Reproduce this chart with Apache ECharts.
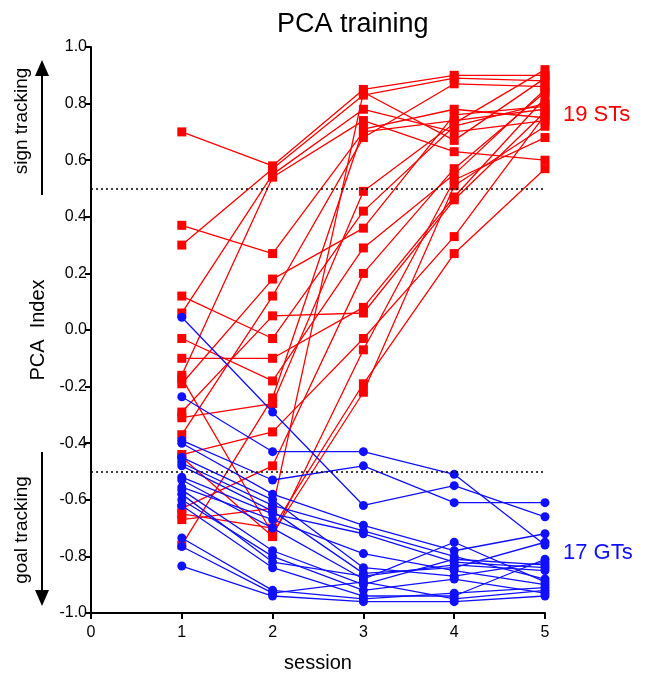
<!DOCTYPE html>
<html>
<head>
<meta charset="utf-8">
<script src="https://cdn.jsdelivr.net/npm/echarts@6/dist/echarts.min.js"></script>
<style>
html,body{margin:0;padding:0;background:#fff;}
#chart{width:654px;height:676px;}
</style>
</head>
<body>
<div id="chart"></div>
<script>
// sessions on x-axis
const sessions = [1, 2, 3, 4, 5];
const xTicks = [0, 1, 2, 3, 4, 5];

// Sign trackers (19 animals): PCA index per session, index i = animal i
const stS1 = [0.70, 0.37, 0.30, 0.12, 0.06, -0.03, -0.10, -0.16, -0.19, -0.29, -0.31, -0.37, -0.44, -0.63, -0.65, -0.76, -0.17, -0.45, -0.67];
const stS2 = [0.58, 0.27, 0.57, -0.03, 0.55, -0.18, -0.10, 0.54, 0.18, 0.05, -0.26, 0.12, -0.36, -0.48, -0.70, -0.24, -0.72, -0.73, -0.63];
const stS3 = [0.85, 0.70, 0.83, 0.42, 0.78, 0.29, 0.08, 0.74, 0.36, 0.06, 0.49, 0.68, -0.03, 0.20, -0.19, 0.71, -0.22, -0.07, 0.84];
const stS4 = [0.90, 0.74, 0.89, 0.72, 0.70, 0.55, 0.47, 0.63, 0.76, 0.46, 0.73, 0.87, 0.33, 0.57, 0.27, 0.78, 0.51, 0.53, 0.67];
const stS5 = [0.90, 0.78, 0.88, 0.80, 0.74, 0.85, 0.82, 0.60, 0.79, 0.77, 0.92, 0.86, 0.76, 0.84, 0.57, 0.75, 0.72, 0.68, 0.89];

// Goal trackers (17 animals)
const gtS1 = [0.045, -0.236, -0.39, -0.40, -0.45, -0.47, -0.48, -0.52, -0.53, -0.555, -0.565, -0.58, -0.60, -0.62, -0.735, -0.765, -0.834];
const gtS2 = [-0.29, -0.43, -0.53, -0.58, -0.60, -0.62, -0.64, -0.65, -0.70, -0.67, -0.78, -0.82, -0.80, -0.84, -0.92, -0.93, -0.94];
const gtS3 = [-0.62, -0.43, -0.48, -0.69, -0.84, -0.71, -0.86, -0.72, -0.88, -0.79, -0.90, -0.87, -0.92, -0.94, -0.95, -0.89, -0.96];
const gtS4 = [-0.55, -0.51, -0.61, -0.78, -0.87, -0.80, -0.84, -0.82, -0.75, -0.85, -0.81, -0.83, -0.88, -0.94, -0.93, -0.95, -0.96];
const gtS5 = [-0.66, -0.76, -0.61, -0.72, -0.82, -0.88, -0.75, -0.84, -0.89, -0.90, -0.83, -0.85, -0.93, -0.81, -0.91, -0.92, -0.94];

const thresholds = [0.5, -0.5];

const stBySession = [stS1, stS2, stS3, stS4, stS5];
const gtBySession = [gtS1, gtS2, gtS3, gtS4, gtS5];

const RED = '#ff0000';
const BLUE = '#1010ff';
const FONT = '"Liberation Sans", Arial, Helvetica, sans-serif';

const series = [];
stS1.forEach((_, i) => {
  series.push({
    type: 'line',
    data: sessions.map((s, j) => [s, stBySession[j][i]]),
    symbol: 'rect',
    symbolSize: 9,
    itemStyle: { color: RED },
    lineStyle: { color: RED, width: 1.3 },
    silent: true,
    animation: false,
    z: 2
  });
});
gtS1.forEach((_, i) => {
  series.push({
    type: 'line',
    data: sessions.map((s, j) => [s, gtBySession[j][i]]),
    symbol: 'circle',
    symbolSize: 9,
    itemStyle: { color: BLUE },
    lineStyle: { color: BLUE, width: 1.3 },
    silent: true,
    animation: false,
    z: 3
  });
});
// dotted threshold lines
series.push({
  type: 'line',
  data: [],
  silent: true,
  animation: false,
  markLine: {
    symbol: ['none', 'none'],
    silent: true,
    label: { show: false },
    lineStyle: { color: '#000', type: [2, 3], width: 1.5 },
    data: thresholds.map(t => [{ coord: [0, t] }, { coord: [5, t] }])
  }
});

const chart = echarts.init(document.getElementById('chart'), null, { renderer: 'canvas' });
chart.setOption({
  animation: false,
  backgroundColor: '#fff',
  textStyle: { fontFamily: FONT },
  title: {
    text: 'PCA training',
    left: 272,
    top: 6,
    textStyle: { fontSize: 27, fontWeight: 'normal', color: '#000', fontFamily: FONT }
  },
  grid: { left: 91, right: 109, top: 47, bottom: 63, containLabel: false, outerBoundsMode: 'none' },
  xAxis: {
    type: 'value',
    min: 0,
    max: 5,
    interval: 1,
    name: 'session',
    nameLocation: 'middle',
    nameGap: 40,
    nameTextStyle: { fontSize: 20, color: '#000', fontFamily: FONT },
    axisLine: { onZero: false, lineStyle: { color: '#000', width: 2 } },
    axisTick: { show: true, inside: false, length: 6, lineStyle: { color: '#000', width: 2 } },
    axisLabel: { fontSize: 16, color: '#000', margin: 12, fontFamily: FONT,
      formatter: v => (xTicks.indexOf(v) >= 0 ? String(v) : '') },
    splitLine: { show: false }
  },
  yAxis: {
    type: 'value',
    min: -1,
    max: 1,
    interval: 0.2,
    name: 'PCA  Index',
    nameLocation: 'middle',
    nameGap: 38,
    nameTextStyle: { fontSize: 20, color: '#000', fontFamily: FONT },
    axisLine: { onZero: false, lineStyle: { color: '#000', width: 2 } },
    axisTick: { show: true, inside: false, length: 6, lineStyle: { color: '#000', width: 2 } },
    axisLabel: { fontSize: 16, color: '#000', margin: 4, fontFamily: FONT,
      formatter: v => (Math.round(v * 10) / 10).toFixed(1) },
    splitLine: { show: false }
  },
  graphic: [
    { type: 'text', x: 22, y: 121, rotation: Math.PI / 2,
      style: { text: 'sign tracking', fontSize: 19, fill: '#000', align: 'center', verticalAlign: 'middle', fontFamily: FONT } },
    { type: 'line', shape: { x1: 42, y1: 195, x2: 42, y2: 74 }, style: { stroke: '#000', lineWidth: 2 } },
    { type: 'polygon', shape: { points: [[35, 76], [49, 76], [42, 60]] }, style: { fill: '#000' } },
    { type: 'text', x: 22, y: 530, rotation: Math.PI / 2,
      style: { text: 'goal tracking', fontSize: 19, fill: '#000', align: 'center', verticalAlign: 'middle', fontFamily: FONT } },
    { type: 'line', shape: { x1: 42, y1: 452, x2: 42, y2: 592 }, style: { stroke: '#000', lineWidth: 2 } },
    { type: 'polygon', shape: { points: [[35, 590], [49, 590], [42, 606]] }, style: { fill: '#000' } },
    { type: 'text', x: 563, y: 115,
      style: { text: '19 STs', fontSize: 22, fill: RED, align: 'left', verticalAlign: 'middle', fontFamily: FONT } },
    { type: 'text', x: 563, y: 553,
      style: { text: '17 GTs', fontSize: 22, fill: BLUE, align: 'left', verticalAlign: 'middle', fontFamily: FONT } }
  ],
  series: series
});
</script>
</body>
</html>
